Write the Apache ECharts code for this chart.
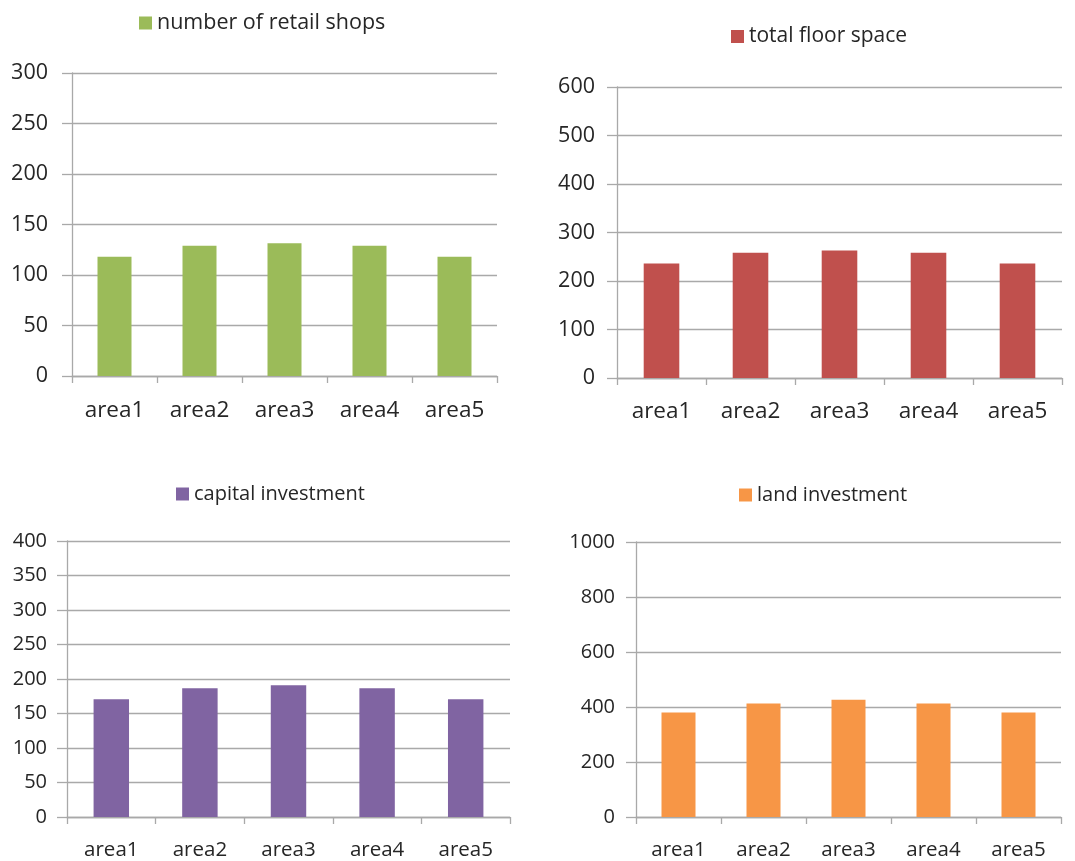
<!DOCTYPE html>
<html>
<head>
<meta charset="utf-8">
<script src="https://cdn.jsdelivr.net/npm/echarts@6/dist/echarts.min.js"></script>
<style>
  html, body { margin: 0; padding: 0; background: #fff; }
  #chart { width: 1075px; height: 861px; }
</style>
</head>
<body>
<div id="chart"></div>
<script>
// Category labels shared by all four panels
const areas = ['area1', 'area2', 'area3', 'area4', 'area5'];

// Series values per panel
const retailShops = [118, 129, 131.5, 129, 118];
const floorSpace = [236, 258, 263, 258, 236];
const capitalInvestment = [170.5, 186.5, 191, 186.5, 170.5];
const landInvestment = [380, 413, 426, 413, 380];

// Panel names, colours and value-axis scales
const seriesNames = ['number of retail shops', 'total floor space', 'capital investment', 'land investment'];
const seriesColors = ['#9BBB59', '#C0504D', '#8064A2', '#F79646'];
const axisMax = [300, 600, 400, 1000];
const axisStep = [50, 100, 50, 200];

const panelValues = [retailShops, floorSpace, capitalInvestment, landInvestment];

// Layout of each panel
const grids = [
  { left: 72, top: 73, width: 425, height: 303 },
  { left: 617, top: 87, width: 445, height: 291 },
  { left: 67, top: 541, width: 443, height: 276 },
  { left: 636, top: 542, width: 425, height: 276 }
];
const legendPos = [
  { left: 139, top: 12 },
  { left: 731, top: 26 },
  { left: 176, top: 484 },
  { left: 739, top: 485 }
];
const legendSize = [21.5, 21, 20, 20];
const yLabelMargin = [24, 22, 20, 21];
const yLabelSize = [21.5, 21.5, 20, 20];
const xLabelSize = [22.5, 22.5, 20.5, 20.5];
const xLabelMargin = [23, 22, 23, 23];

const FONT = 'Open Sans';
const TEXT = '#262626';
const LINE = '#a9a9a9';

const option = {
  animation: false,
  backgroundColor: '#fff',
  textStyle: { fontFamily: FONT },
  grid: grids.map(g => Object.assign({ containLabel: false }, g)),
  legend: seriesNames.map((name, i) => ({
    data: [name],
    left: legendPos[i].left,
    top: legendPos[i].top,
    padding: 0,
    icon: 'rect',
    itemWidth: 13,
    itemHeight: 13,
    selectedMode: false,
    textStyle: { fontFamily: FONT, fontSize: legendSize[i], color: TEXT }
  })),
  xAxis: seriesNames.map((_, i) => ({
    type: 'category',
    gridIndex: i,
    data: areas,
    boundaryGap: true,
    axisLine: { lineStyle: { color: LINE, width: 1.3 } },
    axisTick: { show: true, length: 7, lineStyle: { color: LINE, width: 1.3 } },
    axisLabel: { margin: xLabelMargin[i], fontFamily: FONT, fontSize: xLabelSize[i], color: TEXT },
    splitLine: { show: false }
  })),
  yAxis: seriesNames.map((_, i) => ({
    type: 'value',
    gridIndex: i,
    min: 0,
    max: axisMax[i],
    interval: axisStep[i],
    axisLine: { show: true, lineStyle: { color: LINE, width: 1.3 } },
    axisTick: { show: true, length: 10, lineStyle: { color: LINE, width: 1.3 } },
    axisLabel: {
      margin: yLabelMargin[i],
      fontFamily: FONT,
      fontSize: yLabelSize[i],
      color: TEXT,
      formatter: v => String(v)
    },
    splitLine: { show: true, lineStyle: { color: LINE, width: 1.3 } }
  })),
  series: seriesNames.map((name, i) => ({
    name: name,
    type: 'bar',
    xAxisIndex: i,
    yAxisIndex: i,
    data: panelValues[i],
    barWidth: '40%',
    itemStyle: { color: seriesColors[i] }
  }))
};

const chart = echarts.init(document.getElementById('chart'), null, { renderer: 'canvas' });
chart.setOption(option);
</script>
</body>
</html>
